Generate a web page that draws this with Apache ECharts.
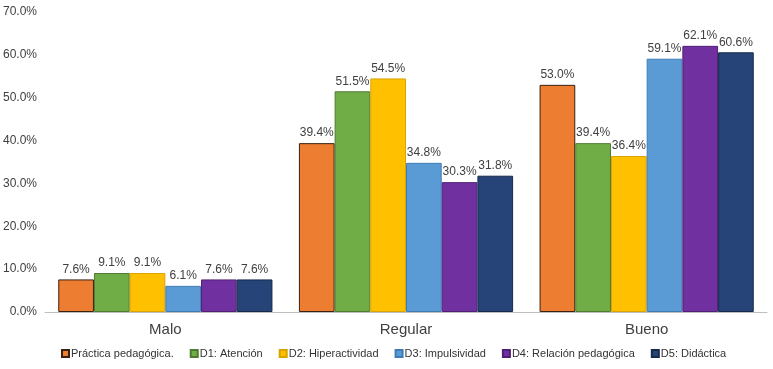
<!DOCTYPE html>
<html>
<head>
<meta charset="utf-8">
<script src="https://cdn.jsdelivr.net/npm/echarts@6/dist/echarts.min.js"></script>
<style>
  html, body { margin: 0; padding: 0; background: #fff; }
  #chart { width: 773px; height: 369px; }
</style>
</head>
<body>
<div id="chart"></div>
<script>
const categories = ['Malo', 'Regular', 'Bueno'];
const seriesNames = ['Práctica pedagógica.', 'D1: Atención', 'D2: Hiperactividad', 'D3: Impulsividad', 'D4: Relación pedagógica', 'D5: Didáctica'];
const practica = [7.6, 39.4, 53.0];
const atencion = [9.1, 51.5, 39.4];
const hiperactividad = [9.1, 54.5, 36.4];
const impulsividad = [6.1, 34.8, 59.1];
const relacion = [7.6, 30.3, 62.1];
const didactica = [7.6, 31.8, 60.6];
const values = [practica, atencion, hiperactividad, impulsividad, relacion, didactica];

const colors = ['#ED7D31', '#70AD47', '#FFC000', '#5B9BD5', '#7030A0', '#264478'];
const borders = ['#3a2010', '#4e7a31', '#d9a300', '#3f7cb5', '#4f1f75', '#172a4d'];
const font = "'Liberation Sans', Arial, sans-serif";

const chart = echarts.init(document.getElementById('chart'));
chart.setOption({
    animation: false,
    textStyle: { fontFamily: font },
    grid: { left: 44, right: 6, top: 12, bottom: 57 },
    legend: {
        bottom: 5,
        left: 56,
        width: 740,
        itemWidth: 7,
        itemHeight: 7,
        itemGap: 16,
        icon: 'rect',
        textStyle: { fontSize: 11, color: '#333', fontFamily: font, padding: [0, 0, 0, -3] },
        data: seriesNames
    },
    xAxis: {
        type: 'category',
        data: categories,
        axisLine: { lineStyle: { color: '#bfbfbf', width: 1 } },
        axisTick: { show: false },
        axisLabel: { fontSize: 15, color: '#404040', margin: 10, fontFamily: font }
    },
    yAxis: {
        type: 'value',
        min: 0,
        max: 70,
        interval: 10,
        splitLine: { show: false },
        axisLine: { show: false },
        axisLabel: {
            fontSize: 12, color: '#404040', fontFamily: font, margin: 8,
            formatter: v => v.toFixed(1) + '%'
        }
    },
    series: seriesNames.map((name, i) => ({
        name: name,
        type: 'bar',
        data: values[i],
        barGap: '0%',
        barCategoryGap: '11%',
        itemStyle: { color: colors[i], borderColor: borders[i], borderWidth: 1 },
        label: {
            show: true,
            position: 'top',
            distance: 4,
            fontSize: 12,
            color: '#404040',
            fontFamily: font,
            formatter: p => p.value.toFixed(1) + '%'
        }
    }))
});
</script>
</body>
</html>
